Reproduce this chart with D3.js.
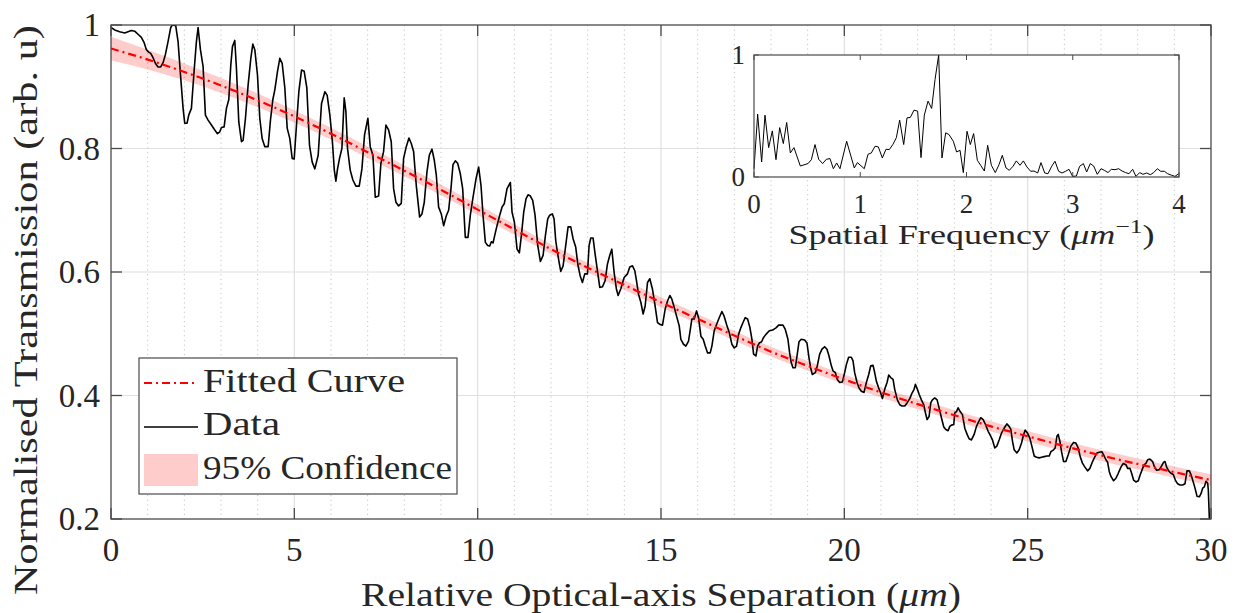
<!DOCTYPE html>
<html>
<head>
<meta charset="utf-8">
<script src="https://cdn.jsdelivr.net/npm/d3@7"></script>
<style>
  html, body { margin: 0; padding: 0; background: #ffffff; }
  svg text { font-family: 'Liberation Serif', 'Times New Roman', Times, serif; fill: #262626; }
</style>
</head>
<body>
<svg id="chart" width="1239" height="613"></svg>
<script>
// ---- axis ticks ----
const xTicks = [0, 5, 10, 15, 20, 25, 30];
const xMinorTicks = [1, 2, 3, 4, 6, 7, 8, 9, 11, 12, 13, 14, 16, 17, 18, 19, 21, 22, 23, 24, 26, 27, 28, 29];
const yTicks = [0.2, 0.4, 0.6, 0.8, 1];
const yTickLabels = ["0.2", "0.4", "0.6", "0.8", "1"];
const insetXTicks = [0, 1, 2, 3, 4];
const insetYTicks = [0, 1];
const legendLabels = ["Fitted Curve", "Data", "95% Confidence"];

// ---- fitted curve and its 95% confidence half-width ----
const fitX = [0, 1, 2, 3, 4, 5, 6, 7, 8, 9, 10, 11, 12, 13, 14, 15, 16, 17, 18, 19, 20, 21, 22, 23, 24, 25, 26, 27, 28, 29, 30];
const fitT = [0.962, 0.944, 0.924, 0.902, 0.878, 0.852, 0.824, 0.794, 0.764, 0.733, 0.701, 0.669, 0.637, 0.607, 0.579, 0.551,
              0.524, 0.497, 0.471, 0.448, 0.426, 0.405, 0.386, 0.368, 0.350, 0.334, 0.318, 0.303, 0.289, 0.276, 0.263];
const fitHalfWidth = [0.019, 0.016, 0.0135, 0.012, 0.011, 0.010, 0.0095, 0.0092, 0.009, 0.0087, 0.0085, 0.0083, 0.008, 0.008, 0.008, 0.008,
                      0.008, 0.008, 0.008, 0.008, 0.008, 0.0081, 0.0082, 0.0083, 0.0085, 0.0086, 0.0088, 0.0089, 0.009, 0.0092, 0.0095];

// ---- measured transmission: [separation (um), normalised transmission] ----
const measured = [
  [0,0.996],[0.10,0.992],[0.237,0.989],[0.373,0.987],[0.464,0.989],[0.555,0.991],[0.646,0.990],[0.737,0.985],[0.828,0.980],
  [0.90,0.972],[0.965,0.960],[1.028,0.956],[1.083,0.954],[1.147,0.947],[1.21,0.938],[1.283,0.932],[1.356,0.932],[1.42,0.939],
  [1.483,0.952],[1.556,0.973],[1.629,0.996],[1.674,1.0],[1.765,0.999],[1.829,0.973],[1.902,0.914],[1.966,0.865],[2.011,0.841],
  [2.075,0.841],[2.12,0.854],[2.193,0.865],[2.266,0.925],[2.329,0.973],[2.375,0.996],[2.439,0.960],[2.511,0.933],[2.575,0.854],
  [2.648,0.846],[2.739,0.838],[2.83,0.830],[2.903,0.824],[2.966,0.827],[3.012,0.834],[3.085,0.835],[3.148,0.865],[3.212,0.879],
  [3.267,0.935],[3.312,0.965],[3.376,0.975],[3.421,0.930],[3.485,0.843],[3.558,0.811],[3.603,0.813],[3.667,0.849],[3.74,0.903],
  [3.813,0.946],[3.867,0.969],[3.922,0.960],[3.995,0.919],[4.058,0.849],[4.122,0.816],[4.195,0.803],[4.286,0.803],[4.349,0.846],
  [4.413,0.879],[4.468,0.895],[4.541,0.925],[4.604,0.946],[4.668,0.938],[4.741,0.898],[4.805,0.833],[4.877,0.816],[4.941,0.784],
  [4.996,0.783],[5.059,0.838],[5.123,0.892],[5.196,0.927],[5.269,0.925],[5.341,0.898],[5.414,0.805],[5.487,0.778],[5.56,0.767],
  [5.65,0.789],[5.742,0.873],[5.833,0.892],[5.896,0.886],[5.969,0.854],[6.04,0.81],[6.09,0.765],[6.133,0.747],[6.178,0.767],
  [6.233,0.784],[6.297,0.800],[6.36,0.882],[6.406,0.860],[6.451,0.800],[6.524,0.765],[6.597,0.749],[6.679,0.739],[6.77,0.739],
  [6.843,0.767],[6.915,0.822],[7.006,0.849],[7.07,0.803],[7.143,0.789],[7.207,0.721],[7.298,0.723],[7.361,0.776],[7.434,0.795],
  [7.498,0.838],[7.571,0.830],[7.643,0.811],[7.707,0.735],[7.771,0.713],[7.844,0.707],[7.916,0.711],[7.98,0.784],[8.053,0.803],
  [8.126,0.817],[8.189,0.808],[8.253,0.795],[8.326,0.740],[8.417,0.689],[8.481,0.694],[8.544,0.713],[8.617,0.762],[8.681,0.789],
  [8.754,0.799],[8.817,0.781],[8.872,0.757],[8.935,0.705],[9.008,0.694],[9.072,0.675],[9.145,0.691],[9.208,0.700],[9.272,0.735],
  [9.327,0.774],[9.39,0.780],[9.454,0.776],[9.527,0.759],[9.591,0.735],[9.663,0.656],[9.736,0.656],[9.80,0.692],[9.873,0.721],
  [9.955,0.751],[10.027,0.770],[10.091,0.740],[10.146,0.692],[10.21,0.648],[10.273,0.643],[10.328,0.642],[10.373,0.649],
  [10.419,0.647],[10.464,0.659],[10.528,0.675],[10.601,0.692],[10.664,0.705],[10.728,0.711],[10.801,0.735],[10.892,0.745],
  [10.937,0.697],[11.001,0.681],[11.074,0.637],[11.137,0.631],[11.192,0.659],[11.256,0.697],[11.32,0.719],[11.374,0.725],
  [11.438,0.723],[11.501,0.716],[11.565,0.692],[11.638,0.643],[11.711,0.617],[11.784,0.627],[11.847,0.659],[11.911,0.686],
  [11.965,0.692],[12.038,0.694],[12.084,0.686],[12.129,0.651],[12.175,0.632],[12.22,0.616],[12.266,0.601],[12.33,0.610],
  [12.402,0.643],[12.466,0.673],[12.539,0.673],[12.602,0.654],[12.675,0.640],[12.73,0.613],[12.794,0.594],[12.857,0.583],
  [12.921,0.597],[12.994,0.597],[13.039,0.643],[13.085,0.655],[13.148,0.655],[13.203,0.629],[13.267,0.602],[13.33,0.575],
  [13.403,0.576],[13.476,0.586],[13.54,0.613],[13.603,0.627],[13.658,0.637],[13.722,0.599],[13.785,0.572],[13.831,0.562],
  [13.904,0.573],[13.995,0.591],[14.086,0.597],[14.149,0.608],[14.222,0.610],[14.286,0.602],[14.331,0.586],[14.386,0.564],
  [14.45,0.551],[14.513,0.532],[14.568,0.545],[14.632,0.583],[14.695,0.589],[14.768,0.572],[14.832,0.548],[14.905,0.518],
  [14.977,0.515],[15.041,0.514],[15.114,0.540],[15.178,0.553],[15.241,0.562],[15.296,0.556],[15.36,0.543],[15.423,0.529],
  [15.496,0.513],[15.542,0.491],[15.614,0.483],[15.678,0.480],[15.751,0.488],[15.815,0.513],[15.842,0.524],[15.906,0.524],
  [15.969,0.537],[16.024,0.526],[16.088,0.496],[16.151,0.491],[16.206,0.480],[16.27,0.469],[16.342,0.469],[16.388,0.480],
  [16.452,0.505],[16.515,0.515],[16.588,0.526],[16.661,0.536],[16.724,0.528],[16.788,0.515],[16.861,0.502],[16.934,0.483],
  [16.997,0.477],[17.061,0.480],[17.116,0.499],[17.179,0.510],[17.243,0.519],[17.298,0.526],[17.361,0.524],[17.425,0.510],
  [17.48,0.491],[17.525,0.467],[17.589,0.464],[17.634,0.480],[17.68,0.485],[17.744,0.487],[17.798,0.494],[17.862,0.499],
  [17.953,0.505],[18.044,0.506],[18.144,0.510],[18.208,0.514],[18.326,0.514],[18.39,0.507],[18.462,0.491],[18.508,0.469],
  [18.553,0.453],[18.599,0.445],[18.663,0.445],[18.717,0.467],[18.763,0.487],[18.826,0.491],[18.917,0.490],[18.981,0.485],
  [19.036,0.461],[19.081,0.445],[19.127,0.434],[19.209,0.437],[19.263,0.448],[19.327,0.467],[19.391,0.475],[19.463,0.479],
  [19.527,0.475],[19.582,0.464],[19.646,0.448],[19.691,0.440],[19.755,0.437],[19.809,0.426],[19.873,0.421],[19.946,0.422],
  [20.009,0.437],[20.055,0.450],[20.118,0.462],[20.191,0.462],[20.237,0.456],[20.282,0.437],[20.346,0.421],[20.401,0.412],
  [20.464,0.407],[20.537,0.405],[20.601,0.421],[20.665,0.434],[20.719,0.448],[20.783,0.449],[20.828,0.437],[20.874,0.423],
  [20.937,0.412],[20.992,0.404],[21.038,0.395],[21.101,0.410],[21.165,0.421],[21.21,0.433],[21.265,0.429],[21.329,0.426],
  [21.374,0.410],[21.447,0.393],[21.511,0.385],[21.574,0.383],[21.647,0.383],[21.711,0.388],[21.784,0.395],[21.847,0.404],
  [21.902,0.410],[21.938,0.418],[21.993,0.410],[22.039,0.402],[22.102,0.393],[22.166,0.385],[22.211,0.372],[22.257,0.361],
  [22.311,0.366],[22.357,0.388],[22.402,0.393],[22.466,0.396],[22.53,0.393],[22.584,0.380],[22.648,0.364],[22.712,0.349],
  [22.767,0.345],[22.83,0.343],[22.876,0.350],[22.921,0.352],[22.985,0.353],[23.012,0.372],[23.058,0.374],[23.103,0.380],
  [23.158,0.374],[23.221,0.369],[23.285,0.347],[23.349,0.337],[23.403,0.330],[23.467,0.328],[23.54,0.337],[23.604,0.350],
  [23.667,0.358],[23.722,0.364],[23.786,0.361],[23.849,0.353],[23.922,0.342],[23.968,0.337],[24.04,0.328],[24.104,0.315],
  [24.159,0.318],[24.222,0.328],[24.286,0.339],[24.359,0.347],[24.432,0.354],[24.495,0.350],[24.541,0.345],[24.586,0.326],
  [24.632,0.312],[24.705,0.307],[24.768,0.312],[24.832,0.323],[24.877,0.334],[24.932,0.344],[24.996,0.339],[25.059,0.331],
  [25.114,0.318],[25.178,0.302],[25.241,0.300],[25.314,0.299],[25.378,0.300],[25.451,0.301],[25.524,0.302],[25.587,0.302],
  [25.633,0.309],[25.706,0.312],[25.751,0.315],[25.797,0.334],[25.833,0.337],[25.879,0.326],[25.924,0.309],[25.979,0.293],
  [26.042,0.293],[26.106,0.304],[26.179,0.318],[26.251,0.324],[26.315,0.323],[26.379,0.315],[26.433,0.301],[26.497,0.290],
  [26.561,0.284],[26.634,0.278],[26.697,0.282],[26.77,0.293],[26.834,0.301],[26.888,0.307],[26.952,0.308],[27.025,0.309],
  [27.07,0.304],[27.134,0.296],[27.18,0.292],[27.225,0.277],[27.271,0.269],[27.343,0.262],[27.407,0.266],[27.471,0.274],
  [27.544,0.284],[27.607,0.290],[27.68,0.288],[27.726,0.282],[27.789,0.282],[27.835,0.274],[27.889,0.263],[27.953,0.260],
  [28.017,0.262],[28.072,0.272],[28.135,0.282],[28.181,0.288],[28.226,0.290],[28.272,0.296],[28.335,0.297],[28.408,0.293],
  [28.454,0.285],[28.517,0.279],[28.59,0.280],[28.654,0.286],[28.709,0.292],[28.745,0.293],[28.79,0.284],[28.845,0.278],
  [28.908,0.274],[28.972,0.272],[29.027,0.263],[29.09,0.257],[29.154,0.255],[29.227,0.255],[29.29,0.257],[29.345,0.278],
  [29.409,0.278],[29.454,0.272],[29.5,0.263],[29.564,0.250],[29.618,0.237],[29.682,0.236],[29.727,0.241],[29.773,0.250],
  [29.818,0.252],[29.864,0.261],[29.909,0.258],[29.927,0.247],[29.955,0.201],[29.965,0.15]
];

// ---- spatial-frequency spectrum: [frequency (1/um), normalised amplitude] ----
const spectrum = [
  [0,0.068],[0.0345,0.515],[0.072,0.123],[0.1035,0.507],[0.138,0.241],[0.1725,0.378],[0.207,0.142],[0.2416,0.405],[0.276,0.274],
  [0.3075,0.447],[0.342,0.197],[0.376,0.241],[0.436,0.090],[0.508,0.110],[0.540,0.142],[0.574,0.266],[0.609,0.145],[0.646,0.110],
  [0.681,0.145],[0.715,0.151],[0.747,0.068],[0.778,0.115],[0.809,0.068],[0.872,0.293],[0.944,0.074],[0.973,0.118],[1.038,0.068],
  [1.073,0.186],[1.104,0.197],[1.139,0.252],[1.170,0.247],[1.208,0.156],[1.242,0.227],[1.274,0.225],[1.308,0.268],[1.340,0.323],
  [1.371,0.466],[1.409,0.266],[1.440,0.485],[1.471,0.488],[1.506,0.548],[1.540,0.540],[1.572,0.159],[1.603,0.507],[1.638,0.622],
  [1.672,0.562],[1.704,0.800],[1.738,1.000],[1.769,0.156],[1.804,0.362],[1.835,0.348],[1.876,0.293],[1.907,0.205],[1.939,0.219],
  [1.970,0.036],[2.005,0.375],[2.036,0.266],[2.067,0.356],[2.102,0.137],[2.133,0.096],[2.168,0.049],[2.199,0.260],[2.234,0.096],
  [2.271,0.036],[2.306,0.101],[2.337,0.178],[2.372,0.074],[2.403,0.055],[2.438,0.088],[2.469,0.132],[2.504,0.096],[2.535,0.132],
  [2.569,0.082],[2.604,0.047],[2.635,0.049],[2.670,0.033],[2.701,0.118],[2.736,0.033],[2.767,0.027],[2.802,0.088],[2.833,0.129],
  [2.867,0.047],[2.899,0.033],[2.933,0.047],[2.965,0.063],[2.999,0.005],[3.034,0.008],[3.065,0.088],[3.100,0.110],[3.131,0.041],
  [3.165,0.110],[3.197,0.090],[3.231,0.022],[3.266,0.068],[3.297,0.055],[3.332,0.036],[3.363,0.063],[3.398,0.060],[3.432,0.068],
  [3.464,0.049],[3.498,0.036],[3.529,0.027],[3.564,0.063],[3.595,0.005],[3.630,0.036],[3.661,0.022],[3.696,0.033],[3.730,0.019],
  [3.762,0.036],[3.796,0.068],[3.827,0.047],[3.862,0.047],[3.893,0.027],[3.931,0.014],[3.962,0.005],[3.997,0.027]
];

// ---- layout ----
const plot = { left: 111, right: 1211, top: 25, bottom: 519 };
const inset = { left: 754, right: 1179, top: 55, bottom: 177 };
const axisColor = "#4a4a4a";
const serif = "'Liberation Serif', 'Times New Roman', Times, serif";

const svg = d3.select("#chart");

const x = d3.scaleLinear().domain([0, 30]).range([plot.left, plot.right]);
const y = d3.scaleLinear().domain([0.2, 1]).range([plot.bottom, plot.top]);

svg.append("defs").append("clipPath").attr("id", "plotClip")
  .append("rect")
  .attr("x", plot.left).attr("y", plot.top)
  .attr("width", plot.right - plot.left).attr("height", plot.bottom - plot.top);

// ---- grid ----
const grid = svg.append("g");
grid.selectAll("line.minor").data(xMinorTicks).join("line")
  .attr("class", "minor")
  .attr("x1", d => x(d)).attr("x2", d => x(d))
  .attr("y1", plot.top).attr("y2", plot.bottom)
  .attr("stroke", "#c4c4c4").attr("stroke-width", 1).attr("stroke-dasharray", "1.2,3.5");
grid.selectAll("line.vmajor").data(xTicks.slice(1, -1)).join("line")
  .attr("class", "vmajor")
  .attr("x1", d => x(d)).attr("x2", d => x(d))
  .attr("y1", plot.top).attr("y2", plot.bottom)
  .attr("stroke", "#e0e0e0").attr("stroke-width", 1.2);
grid.selectAll("line.hmajor").data(yTicks.slice(1, -1)).join("line")
  .attr("class", "hmajor")
  .attr("x1", plot.left).attr("x2", plot.right)
  .attr("y1", d => y(d)).attr("y2", d => y(d))
  .attr("stroke", "#e0e0e0").attr("stroke-width", 1.2);

// ---- confidence band, fitted curve, measured data ----
const fitRows = fitX.map((v, i) => ({ x: v, t: fitT[i], hw: fitHalfWidth[i] }));
const layer = svg.append("g").attr("clip-path", "url(#plotClip)");

layer.append("path")
  .datum(fitRows)
  .attr("d", d3.area()
    .x(d => x(d.x)).y0(d => y(d.t - d.hw)).y1(d => y(d.t + d.hw))
    .curve(d3.curveMonotoneX))
  .attr("fill", "#ff0000").attr("fill-opacity", 0.2).attr("stroke", "none");

layer.append("path")
  .datum(measured)
  .attr("d", d3.line().x(d => x(d[0])).y(d => y(d[1])))
  .attr("fill", "none").attr("stroke", "#000000").attr("stroke-width", 1.6)
  .attr("stroke-linejoin", "round");

layer.append("path")
  .datum(fitRows)
  .attr("d", d3.line().x(d => x(d.x)).y(d => y(d.t)).curve(d3.curveMonotoneX))
  .attr("fill", "none").attr("stroke", "#ff0000").attr("stroke-width", 2.2)
  .attr("stroke-dasharray", "8,4,2,4");

// ---- axes box and ticks ----
const frame = svg.append("g");
frame.append("rect")
  .attr("x", plot.left).attr("y", plot.top)
  .attr("width", plot.right - plot.left).attr("height", plot.bottom - plot.top)
  .attr("fill", "none").attr("stroke", axisColor).attr("stroke-width", 1.3);

const tickLen = 11;
xTicks.forEach(t => {
  frame.append("line").attr("x1", x(t)).attr("x2", x(t))
    .attr("y1", plot.bottom).attr("y2", plot.bottom - tickLen)
    .attr("stroke", axisColor).attr("stroke-width", 1.3);
  frame.append("line").attr("x1", x(t)).attr("x2", x(t))
    .attr("y1", plot.top).attr("y2", plot.top + tickLen)
    .attr("stroke", axisColor).attr("stroke-width", 1.3);
});
yTicks.forEach(t => {
  frame.append("line").attr("x1", plot.left).attr("x2", plot.left + tickLen)
    .attr("y1", y(t)).attr("y2", y(t))
    .attr("stroke", axisColor).attr("stroke-width", 1.3);
  frame.append("line").attr("x1", plot.right).attr("x2", plot.right - tickLen)
    .attr("y1", y(t)).attr("y2", y(t))
    .attr("stroke", axisColor).attr("stroke-width", 1.3);
});

// tick labels
const tickFont = 33;
svg.append("g").selectAll("text").data(xTicks).join("text")
  .attr("x", d => x(d)).attr("y", 561)
  .attr("text-anchor", "middle").attr("font-size", tickFont).attr("font-family", serif)
  .text(d => d3.format("d")(d));
svg.append("g").selectAll("text").data(yTicks).join("text")
  .attr("x", 100).attr("y", d => y(d) + 11)
  .attr("text-anchor", "end").attr("font-size", tickFont).attr("font-family", serif)
  .text((d, i) => yTickLabels[i]);

// axis titles
const xTitle = svg.append("text")
  .attr("x", (plot.left + plot.right) / 2).attr("y", 606)
  .attr("text-anchor", "middle").attr("font-size", tickFont).attr("font-family", serif)
  .attr("textLength", 600).attr("lengthAdjust", "spacingAndGlyphs");
xTitle.append("tspan").text("Relative Optical-axis Separation (");
xTitle.append("tspan").attr("font-style", "italic").text("μm");
xTitle.append("tspan").text(")");

svg.append("text")
  .attr("transform", "translate(37,310) rotate(-90)")
  .attr("text-anchor", "middle").attr("font-size", tickFont).attr("font-family", serif)
  .attr("textLength", 570).attr("lengthAdjust", "spacingAndGlyphs")
  .text("Normalised Transmission (arb. u)");

// ---- legend ----
const lg = svg.append("g");
lg.append("rect").attr("x", 139).attr("y", 358).attr("width", 318).attr("height", 136)
  .attr("fill", "#ffffff").attr("stroke", axisColor).attr("stroke-width", 1.2);
lg.append("line").attr("x1", 144).attr("x2", 198).attr("y1", 383).attr("y2", 383)
  .attr("stroke", "#ff0000").attr("stroke-width", 2.2).attr("stroke-dasharray", "8,4,2,4");
lg.append("line").attr("x1", 144).attr("x2", 198).attr("y1", 427).attr("y2", 427)
  .attr("stroke", "#000000").attr("stroke-width", 1.6);
lg.append("rect").attr("x", 144).attr("y", 454).attr("width", 54).attr("height", 32)
  .attr("fill", "#ff0000").attr("fill-opacity", 0.2);
const legendBaselines = [392, 435, 479];
const legendWidths = [202, 77, 249];
lg.selectAll("text").data(legendLabels).join("text")
  .attr("x", 203).attr("y", (d, i) => legendBaselines[i])
  .attr("font-size", tickFont).attr("font-family", serif)
  .attr("textLength", (d, i) => legendWidths[i]).attr("lengthAdjust", "spacingAndGlyphs")
  .text(d => d);

// ---- inset: spectrum ----
const ix = d3.scaleLinear().domain([0, 4]).range([inset.left, inset.right]);
const iy = d3.scaleLinear().domain([0, 1]).range([inset.bottom, inset.top]);
const ig = svg.append("g");
ig.append("rect")
  .attr("x", inset.left).attr("y", inset.top)
  .attr("width", inset.right - inset.left).attr("height", inset.bottom - inset.top)
  .attr("fill", "#ffffff");
ig.append("path")
  .datum(spectrum)
  .attr("d", d3.line().x(d => ix(d[0])).y(d => iy(d[1])))
  .attr("fill", "none").attr("stroke", "#000000").attr("stroke-width", 1);
ig.append("rect")
  .attr("x", inset.left).attr("y", inset.top)
  .attr("width", inset.right - inset.left).attr("height", inset.bottom - inset.top)
  .attr("fill", "none").attr("stroke", axisColor).attr("stroke-width", 1.2);
const iTick = 5;
insetXTicks.forEach(t => {
  ig.append("line").attr("x1", ix(t)).attr("x2", ix(t))
    .attr("y1", inset.bottom).attr("y2", inset.bottom - iTick).attr("stroke", axisColor);
  ig.append("line").attr("x1", ix(t)).attr("x2", ix(t))
    .attr("y1", inset.top).attr("y2", inset.top + iTick).attr("stroke", axisColor);
});
insetYTicks.forEach(t => {
  ig.append("line").attr("x1", inset.left).attr("x2", inset.left + iTick)
    .attr("y1", iy(t)).attr("y2", iy(t)).attr("stroke", axisColor);
  ig.append("line").attr("x1", inset.right).attr("x2", inset.right - iTick)
    .attr("y1", iy(t)).attr("y2", iy(t)).attr("stroke", axisColor);
});
ig.selectAll("text.ixt").data(insetXTicks).join("text")
  .attr("class", "ixt")
  .attr("x", d => ix(d)).attr("y", 213)
  .attr("text-anchor", "middle").attr("font-size", 27).attr("font-family", serif)
  .text(d => d);
ig.selectAll("text.iyt").data(insetYTicks).join("text")
  .attr("class", "iyt")
  .attr("x", 745).attr("y", d => iy(d) + 9)
  .attr("text-anchor", "end").attr("font-size", 27).attr("font-family", serif)
  .text(d => d);
const insetTitle = ig.append("text")
  .attr("x", (inset.left + inset.right) / 2 + 5).attr("y", 244)
  .attr("text-anchor", "middle").attr("font-size", 27).attr("font-family", serif)
  .attr("textLength", 366).attr("lengthAdjust", "spacingAndGlyphs");
insetTitle.append("tspan").text("Spatial Frequency (");
insetTitle.append("tspan").attr("font-style", "italic").text("μm");
insetTitle.append("tspan").attr("font-size", 19).attr("dy", -11).text("−1");
insetTitle.append("tspan").attr("dy", 11).text(")");
</script>
</body>
</html>
